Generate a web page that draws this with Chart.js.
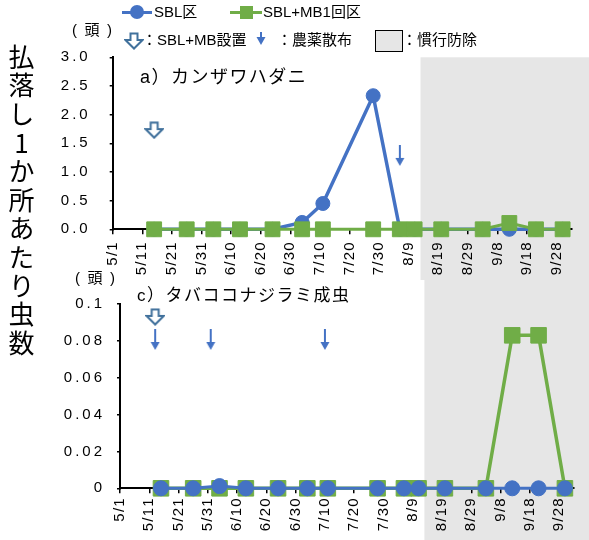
<!DOCTYPE html>
<html lang="ja">
<head>
<meta charset="utf-8">
<title>払落し1か所あたり虫数</title>
<script src="https://cdn.jsdelivr.net/npm/chart.js@4.4.1/dist/chart.umd.min.js"></script>
<style>
    html, body { margin: 0; padding: 0; background: #fff; }
    #wrap {
        position: relative; width: 589px; height: 540px; overflow: hidden;
        font-family: "Liberation Sans", "Noto Sans CJK JP", sans-serif; color: #000;
    }
    #wrap canvas.chart { position: absolute; left: 0; }
    #cvA { top: 0; }
    #cvC { top: 280px; }
    .t { position: absolute; white-space: nowrap; font-size: 15px; line-height: 16px; }
    .ttl { position: absolute; white-space: nowrap; font-size: 17px; line-height: 18px; letter-spacing: 1.5px; }
    .ytitle {
        position: absolute; left: 8px; top: 44px;
        writing-mode: vertical-rl; text-orientation: upright;
        font-family: "Noto Sans CJK JP", sans-serif; font-size: 26px; line-height: 26px; letter-spacing: 2.6px;
    }
    .lg { position: absolute; }
</style>
</head>
<body>
<div id="wrap">
    <canvas id="cvA" class="chart" width="589" height="280"></canvas>
    <canvas id="cvC" class="chart" width="589" height="260"></canvas>

    <div class="ytitle">払落し1か所あたり虫数</div>

    <!-- leyenda -->
    <div class="lg" style="left:122px;top:10.5px;width:30px;height:3px;background:#4472c4"></div>
    <div class="lg" style="left:130px;top:5px;width:14px;height:14px;border-radius:50%;background:#4472c4"></div>
    <div class="t" style="left:154px;top:4px">SBL区</div>
    <div class="lg" style="left:230px;top:10.5px;width:32px;height:3px;background:#70ad47"></div>
    <div class="lg" style="left:240px;top:5.5px;width:13px;height:13px;background:#70ad47"></div>
    <div class="t" style="left:263px;top:4px">SBL+MB1回区</div>

    <div class="t" style="left:72px;top:22px">(&#x2002;頭&#x2002;)</div>
    <span id="lgInstall" class="lg" style="left:124px;top:32px"></span>
    <div class="t" style="left:142px;top:32px">：SBL+MB設置</div>
    <span id="lgSpray" class="lg" style="left:256px;top:32px"></span>
    <div class="t" style="left:277px;top:32px">：農薬散布</div>
    <div class="lg" style="left:375px;top:30px;width:28px;height:22px;box-sizing:border-box;border:1.5px solid #000;background:#e6e6e6"></div>
    <div class="t" style="left:402px;top:32px">：慣行防除</div>

    <div class="ttl" style="left:140px;top:68px;font-size:18px">a）カンザワハダニ</div>
    <div class="t" style="left:75px;top:270px">(&#x2002;頭&#x2002;)</div>
    <div class="ttl" style="left:137px;top:287px">c）タバココナジラミ成虫</div>
</div>

<script>
// fechas de muestreo (mes/dia)
const sampleDates = ['5/15', '5/26', '6/4', '6/13', '6/24', '7/4', '7/11', '7/28', '8/6', '8/11', '8/20', '9/3', '9/12', '9/21', '9/30'];

// a) カンザワハダニ
const miteSBL   = [0, 0, 0, 0, 0, 0.12, 0.45, 2.33, 0, 0, 0, 0, 0, 0, 0];
const miteSBLMB = [0, 0, 0, 0, 0, 0, 0, 0, 0, 0, 0, 0, 0.11, 0, 0];

// c) タバココナジラミ成虫
const whiteflySBL   = [0, 0, 0.0012, 0, 0, 0, 0, 0, 0, 0, 0, 0, 0, 0, 0];
const whiteflySBLMB = [0, 0, 0, 0, 0, 0, 0, 0, 0, 0, 0, 0, 0.083, 0.083, 0];

// flechas: colocacion SBL+MB y aplicaciones de plaguicida
const installDatesA = ['5/15'];
const installLevelA = [1.73];
const sprayDatesA   = ['8/6'];
const sprayLevelA   = [1.28];
const installDatesC = ['5/13'];
const installLevelC = [0.093];
const sprayDatesC   = ['5/13', '6/1', '7/10'];
const sprayLevelC   = [0.0805, 0.0805, 0.0805];

// periodo de control convencional (zona gris)
const conventionalFrom = '8/13';

const xTickLabels  = ['5/1', '5/11', '5/21', '5/31', '6/10', '6/20', '6/30', '7/10', '7/20', '7/30', '8/9', '8/19', '8/29', '9/8', '9/18', '9/28'];
const yTickLabelsA = ['0.0', '0.5', '1.0', '1.5', '2.0', '2.5', '3.0'];
const yTickLabelsC = ['0', '0.02', '0.04', '0.06', '0.08', '0.1'];

const BLUE = '#4472c4';
const GREEN = '#70ad47';
const GREY = '#e6e6e6';
const FONT = '"Liberation Sans", "Noto Sans CJK JP", sans-serif';

function dayOf(md) {
    const [m, d] = md.split('/').map(Number);
    return (Date.UTC(2020, m - 1, d) - Date.UTC(2020, 4, 1)) / 864e5;
}

function hollowArrow() {
    const c = document.createElement('canvas');
    c.width = 20; c.height = 18;
    const g = c.getContext('2d');
    g.beginPath();
    g.moveTo(6.5, 1.5); g.lineTo(13.5, 1.5); g.lineTo(13.5, 8); g.lineTo(18.5, 8);
    g.lineTo(10, 16.5); g.lineTo(1.5, 8); g.lineTo(6.5, 8); g.closePath();
    g.fillStyle = '#fff'; g.fill();
    g.lineWidth = 2; g.strokeStyle = '#41719c'; g.lineJoin = 'miter'; g.stroke();
    return c;
}

function thinArrow(h) {
    const c = document.createElement('canvas');
    c.width = 10; c.height = h;
    const g = c.getContext('2d');
    g.fillStyle = BLUE;
    g.fillRect(4, 0, 2, h - 7);
    g.beginPath();
    g.moveTo(0.5, h - 9); g.lineTo(9.5, h - 9); g.lineTo(5, h - 1); g.closePath();
    g.fill();
    return c;
}

document.getElementById('lgInstall').appendChild(hollowArrow());
document.getElementById('lgSpray').appendChild(thinArrow(14));

const shadePlugin = {
    id: 'shade',
    beforeDraw(chart, args, opts) {
        const { ctx, chartArea } = chart;
        const left = chart.scales.x.getPixelForValue(dayOf(opts.from));
        const top = opts.fromArea ? chartArea.top : 0;
        ctx.save();
        ctx.fillStyle = opts.color;
        ctx.fillRect(left, top, chart.width - left, chart.height - top);
        ctx.restore();
    }
};

function serie(label, values, color, style, radius, width, order) {
    return {
        label,
        data: sampleDates.map((d, i) => ({ x: dayOf(d), y: values[i] })),
        borderColor: color,
        backgroundColor: color,
        borderWidth: width,
        pointStyle: style,
        pointRadius: radius,
        pointHoverRadius: radius,
        pointBorderWidth: 1,
        tension: 0,
        clip: false,
        order
    };
}

function flechas(dates, levels, img) {
    return {
        label: 'marker',
        data: dates.map((d, i) => ({ x: dayOf(d), y: levels[i] })),
        showLine: false,
        pointStyle: img,
        pointRadius: 10,
        clip: false,
        order: -1
    };
}

const spaced = (s, sp) => s.split('').join(sp);

function crearGrafico(id, datasets, yLabels, box) {
    new Chart(document.getElementById(id), {
        type: 'line',
        data: { datasets },
        plugins: [shadePlugin],
        options: {
            responsive: false,
            animation: false,
            events: [],
            layout: { padding: { left: box.left, right: box.right, top: box.top, bottom: 0 } },
            plugins: {
                legend: { display: false },
                tooltip: { enabled: false },
                shade: { from: conventionalFrom, color: GREY, fromArea: box.shadeFromArea }
            },
            scales: {
                x: {
                    type: 'linear',
                    min: 0,
                    max: 155,
                    afterBuildTicks: s => { s.ticks = xTickLabels.map(l => ({ value: dayOf(l) })); },
                    afterFit: s => { s.height = box.xHeight; },
                    grid: { drawOnChartArea: false, tickLength: 5, color: '#000', lineWidth: 1.5 },
                    border: { color: '#000', width: 2 },
                    ticks: {
                        autoSkip: false, minRotation: 90, maxRotation: 90,
                        padding: box.xPad, color: '#000',
                        font: { family: FONT, size: 15 },
                        callback: (v, i) => spaced(xTickLabels[i], '\u200A')
                    }
                },
                y: {
                    min: 0,
                    max: parseFloat(yLabels[yLabels.length - 1]),
                    afterBuildTicks: s => { s.ticks = yLabels.map(l => ({ value: parseFloat(l) })); },
                    afterFit: s => { s.width = box.yWidth; },
                    grid: { drawOnChartArea: false, tickLength: 3, color: '#000', lineWidth: 1.5 },
                    border: { color: '#000', width: 2 },
                    ticks: {
                        padding: box.yPad, color: '#000',
                        font: { family: FONT, size: 15 },
                        callback: (v, i) => spaced(yLabels[i], '\u2009')
                    }
                }
            }
        }
    });
}

// a) カンザワハダニ: verde encima del azul
crearGrafico('cvA', [
    flechas(installDatesA, installLevelA, hollowArrow()),
    flechas(sprayDatesA, sprayLevelA, thinArrow(22)),
    serie('SBL+MB1回区', miteSBLMB, GREEN, 'rect', 10.5, 3, 1),
    serie('SBL区', miteSBL, BLUE, 'circle', 7, 3.5, 2)
], yTickLabelsA, { left: 40, right: 17.5, top: 57.3, xHeight: 50.7, yWidth: 72.7, xPad: 8, yPad: 22, shadeFromArea: true });

// c) タバココナジラミ成虫: azul encima del verde
crearGrafico('cvC', [
    flechas(installDatesC, installLevelC, hollowArrow()),
    flechas(sprayDatesC, sprayLevelC, thinArrow(22)),
    serie('SBL区', whiteflySBL, BLUE, 'circle', 7.5, 3, 1),
    serie('SBL+MB1回区', whiteflySBLMB, GREEN, 'rect', 11, 3.5, 2)
], yTickLabelsC, { left: 40, right: 15.3, top: 21.7, xHeight: 51.7, yWidth: 80, xPad: 5, yPad: 15, shadeFromArea: false });
</script>
</body>
</html>
